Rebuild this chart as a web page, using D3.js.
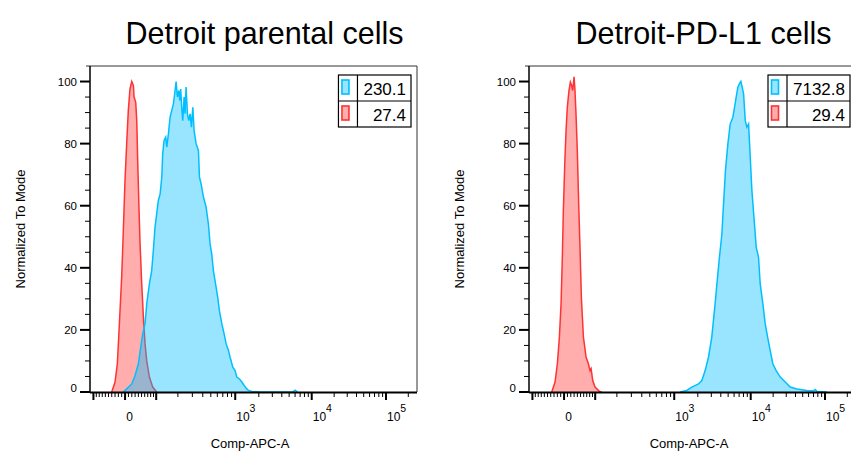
<!DOCTYPE html>
<html>
<head>
<meta charset="utf-8">
<script src="https://cdn.jsdelivr.net/npm/d3@7"></script>
<style>
  body { margin: 0; background: #fff; }
  svg { display: block; font-family: "Liberation Sans", Arial, sans-serif; }
</style>
</head>
<body>
<div id="chart"></div>
<script>
// histogram data: [display channel (0-256, biexponential), % of mode]
var parentalStained = [[26.1,0],[28.7,1.0],[32.7,2.6],[35.3,5.3],[37.9,9.1],[39.7,14.4],[41.3,18.7],[43.1,22.0],
  [44.4,28.4],[46.5,34.8],[48.3,39.1],[49.6,45.6],[50.9,53.1],[52.2,57.4],[53.5,61.7],[54.9,63.8],[56.2,69.2],
  [56.9,76.7],[58.0,81.0],[59.3,82.1],[60.1,78.9],[61.4,83.2],[62.7,88.5],[64.0,90.7],[65.3,92.8],[66.6,97.1],
  [67.4,100],[68.4,95.0],[69.5,97.1],[70.3,93.9],[71.0,97.6],[71.8,91.7],[72.6,87.4],[73.7,95.0],[74.4,89.6],
  [75.2,98.2],[76.3,89.6],[77.3,87.4],[78.4,89.6],[79.4,85.3],[80.5,91.7],[81.5,84.2],[83.1,79.9],[84.9,77.8],
  [85.7,69.2],[87.0,67.0],[88.8,62.8],[90.9,59.5],[92.7,54.1],[94.0,47.7],[95.3,44.5],[96.6,39.1],[98.7,33.8],
  [100.0,30.5],[101.3,26.2],[103.2,22.0],[105.0,18.7],[106.6,15.5],[108.4,13.4],[109.7,11.2],[111.8,8.0],
  [113.6,6.9],[114.9,4.8],[117.0,4.2],[118.9,3.2],[120.7,2.1],[122.8,1.0],[124.1,0.5],[126.7,0.2],[133.2,0],
  [158.5,0],[160.6,0.6],[162.5,0]];
var parentalControl = [[17.0,0],[19.6,3.2],[21.4,9.1],[23.0,22.0],[24.8,37.0],[26.1,52.0],[27.4,68.1],[28.7,79.9],
  [30.0,90.7],[31.3,97.6],[32.7,100],[34.0,98.7],[34.5,95.0],[35.8,93.3],[36.6,87.4],[37.4,73.5],[38.4,58.5],
  [39.2,47.7],[40.5,34.8],[41.8,24.1],[43.1,15.5],[44.4,10.1],[46.5,4.8],[49.1,1.6],[52.2,0]];
var pdl1Stained = [[118.3,0],[123.5,0.5],[127.5,1.6],[132.7,2.6],[135.3,3.7],[137.9,6.9],[140.5,11.2],[143.1,17.7],
  [145.7,28.4],[147.6,37.0],[149.1,43.4],[151.0,50.9],[152.3,60.6],[153.8,71.3],[155.7,79.9],[157.5,86.3],
  [159.6,88.5],[160.9,91.7],[162.2,95.0],[163.5,98.2],[164.8,99.3],[165.9,100],[166.9,98.2],[168.0,96.0],
  [169.3,87.4],[170.6,85.3],[171.9,86.3],[173.2,75.6],[174.5,64.9],[176.3,55.2],[177.9,46.6],[179.7,43.4],
  [181.0,34.8],[183.1,28.4],[184.9,22.0],[186.8,17.7],[188.8,13.4],[190.9,9.1],[193.5,6.9],[196.7,4.8],
  [200.6,3.2],[204.5,1.6],[209.7,1.0],[217.6,0.5],[222.5,0.3],[224.0,0.8],[225.4,0.2],[233.2,0]];
var pdl1Control = [[17.8,0],[20.4,3.2],[22.2,9.1],[23.8,17.7],[25.1,28.4],[26.1,43.4],[26.9,58.5],[28.0,73.5],
  [29.0,84.2],[30.0,91.7],[31.3,97.1],[32.4,99.8],[33.4,98.7],[34.2,97.1],[35.3,101.5],[36.0,97.1],[36.8,89.6],
  [37.9,76.7],[38.9,60.6],[40.0,45.6],[41.0,30.5],[42.6,17.7],[44.7,11.2],[46.5,9.1],[47.8,6.9],[48.6,7.5],
  [49.9,3.7],[51.7,1.6],[55.1,0.2],[56.9,0]];

var panelTitles = ["Detroit parental cells", "Detroit-PD-L1 cells"];
var stainedSeries = [parentalStained, pdl1Stained];
var controlSeries = [parentalControl, pdl1Control];
var stainedMFI = ["230.1", "7132.8"];
var controlMFI = ["27.4", "29.4"];

var xTitle = "Comp-APC-A";
var yTitle = "Normalized To Mode";
var xMajorTicks = [-100, 0, 100, 1000, 10000, 100000];
var xMinorTicks = [-90,-80,-70,-60,-50,-40,-30,-20,-10,10,20,30,40,50,60,70,80,90,
  200,300,400,500,600,700,800,900,2000,3000,4000,5000,6000,7000,8000,9000,
  20000,30000,40000,50000,60000,70000,80000,90000,200000];
var xLabelValues = [0, 1000, 10000, 100000];
var xLabelBase = ["0", "10", "10", "10"];
var xLabelExp = ["", "3", "4", "5"];
var yTicks = d3.range(0, 101, 5);

// biexponential (logicle) display transform
var T = 262144, M = 4.42, W = 0.474;
var p = (function () {
  var lo = 1.0001, hi = 50;
  for (var k = 0; k < 80; k++) {
    var mid = (lo + hi) / 2;
    if (2 * mid * Math.log10(mid) / (mid + 1) < W) lo = mid; else hi = mid;
  }
  return (lo + hi) / 2;
})();
function biexS(yv) {
  var z = yv - W;
  return T * Math.pow(10, -(M - W)) * (Math.pow(10, z) - p * p * Math.pow(10, -z / p) + p * p - 1);
}
function channel(v) {
  var lo = -1, hi = M + 1;
  for (var k = 0; k < 80; k++) {
    var mid = (lo + hi) / 2;
    if (biexS(mid) < v) lo = mid; else hi = mid;
  }
  return (lo + hi) / 2 / M * 256;
}

var width = 851, height = 452;
var plotW = 327, plotH = 326, plotTop = 66;
var panelLefts = [90, 529];

var blue = "#00bfff", red = "#ff3333";

var svg = d3.select("#chart").append("svg")
  .attr("width", width)
  .attr("height", height);

var x = d3.scaleLinear().domain([0, 256]).range([0, plotW]);
var y = d3.scaleLinear().domain([0, 105]).range([plotH, 0]);

var area = d3.area()
  .x(function (d) { return x(d[0]); })
  .y0(y(0))
  .y1(function (d) { return y(d[1]); });
var line = d3.line()
  .x(function (d) { return x(d[0]); })
  .y(function (d) { return y(d[1]); });

svg.append("clipPath").attr("id", "plotclip")
  .append("rect").attr("x", 0).attr("y", 0).attr("width", plotW).attr("height", plotH);

panelTitles.forEach(function (title, i) {
  var g = svg.append("g")
    .attr("transform", "translate(" + panelLefts[i] + "," + plotTop + ")");

  // title
  g.append("text")
    .attr("x", plotW / 2 + 11)
    .attr("y", -22)
    .attr("text-anchor", "middle")
    .style("font-size", "30.5px")
    .attr("fill", "#000")
    .text(title);

  // histograms: control first, stained on top
  var plot = g.append("g").attr("clip-path", "url(#plotclip)");
  plot.append("path").datum(controlSeries[i])
    .attr("d", area).attr("fill", red).attr("fill-opacity", 0.4);
  plot.append("path").datum(controlSeries[i])
    .attr("d", line).attr("fill", "none").attr("stroke", red).attr("stroke-width", 1.5);
  plot.append("path").datum(stainedSeries[i])
    .attr("d", area).attr("fill", blue).attr("fill-opacity", 0.4);
  plot.append("path").datum(stainedSeries[i])
    .attr("d", line).attr("fill", "none").attr("stroke", blue).attr("stroke-width", 1.5);

  // frame
  g.append("line").attr("x1", -4).attr("x2", plotW).attr("y1", 0).attr("y2", 0)
    .attr("stroke", "#333").attr("stroke-width", 1);
  g.append("line").attr("x1", plotW).attr("x2", plotW).attr("y1", 0).attr("y2", plotH)
    .attr("stroke", "#333").attr("stroke-width", 1);
  g.append("line").attr("x1", 0).attr("x2", 0).attr("y1", 0).attr("y2", plotH + 1)
    .attr("stroke", "#000").attr("stroke-width", 1.5);
  g.append("line").attr("x1", 0).attr("x2", plotW).attr("y1", plotH + 0.5).attr("y2", plotH + 0.5)
    .attr("stroke", "#000").attr("stroke-width", 2);

  // y ticks
  yTicks.forEach(function (v) {
    var major = v % 20 === 0;
    g.append("line")
      .attr("x1", major ? -10 : -5).attr("x2", 0)
      .attr("y1", y(v)).attr("y2", y(v))
      .attr("stroke", "#000").attr("stroke-width", major ? 2 : 1);
    if (major) {
      g.append("text")
        .attr("x", -13).attr("y", v === 0 ? y(v) - 4 : y(v)).attr("dy", "0.35em")
        .attr("text-anchor", "end")
        .style("font-size", "11.5px")
        .text(v);
    }
  });

  // x ticks (biexponential)
  xMinorTicks.forEach(function (v) {
    var px = x(channel(v));
    if (px < 0 || px > plotW) return;
    g.append("line").attr("x1", px).attr("x2", px)
      .attr("y1", plotH + 1).attr("y2", plotH + 5)
      .attr("stroke", "#000").attr("stroke-width", 1);
  });
  xMajorTicks.forEach(function (v) {
    var px = x(channel(v));
    if (px < 0 || px > plotW) return;
    g.append("line").attr("x1", px).attr("x2", px)
      .attr("y1", plotH + 1).attr("y2", plotH + 8)
      .attr("stroke", "#000").attr("stroke-width", 2);
  });
  xLabelValues.forEach(function (v, k) {
    var px = x(channel(v));
    var t = g.append("text")
      .attr("y", plotH + 29)
      .style("font-size", "12px");
    if (xLabelExp[k] === "") {
      t.attr("x", px + 4.5).attr("text-anchor", "middle").text(xLabelBase[k]);
    } else {
      t.attr("x", px + 1).attr("text-anchor", "start");
      t.append("tspan").text(xLabelBase[k]);
      t.append("tspan").attr("dy", -9).style("font-size", "10.5px").text(xLabelExp[k]);
    }
  });

  // axis titles
  g.append("text")
    .attr("transform", "translate(-65," + (plotH / 2) + ") rotate(-90)")
    .attr("text-anchor", "middle")
    .style("font-size", "13px")
    .text(yTitle);
  g.append("text")
    .attr("x", plotW / 2 - 3.5)
    .attr("y", 382)
    .attr("text-anchor", "middle")
    .style("font-size", "13px")
    .text(xTitle);

  // legend box
  var legendRows = [[blue, stainedMFI[i]], [red, controlMFI[i]]];
  var lg = g.append("g");
  var texts = lg.selectAll("text.mfi")
    .data(legendRows)
    .enter()
    .append("text")
    .attr("class", "mfi")
    .attr("text-anchor", "end")
    .style("font-size", "17px")
    .text(function (d) { return d[1]; });
  var maxW = d3.max(texts.nodes(), function (n) { return n.getComputedTextLength(); });
  var rowH = 26, swW = 19, right = plotW - 6, top = 9;
  var textCol = maxW + 11;
  var left = right - textCol - swW;
  texts.attr("x", right - 5)
    .attr("y", function (d, k) { return top + k * rowH + 20; });
  lg.append("rect")
    .attr("x", left).attr("y", top)
    .attr("width", right - left).attr("height", rowH * 2)
    .attr("fill", "none").attr("stroke", "#000").attr("stroke-width", 1.2);
  lg.append("line").attr("x1", left).attr("x2", right)
    .attr("y1", top + rowH).attr("y2", top + rowH)
    .attr("stroke", "#000").attr("stroke-width", 1.2);
  lg.append("line").attr("x1", left + swW).attr("x2", left + swW)
    .attr("y1", top).attr("y2", top + rowH * 2)
    .attr("stroke", "#000").attr("stroke-width", 1.2);
  legendRows.forEach(function (d, k) {
    lg.append("rect")
      .attr("x", left + 3.5).attr("y", top + k * rowH + 5)
      .attr("width", 7).attr("height", 14)
      .attr("fill", d[0]).attr("fill-opacity", 0.4)
      .attr("stroke", d[0]).attr("stroke-width", 1.6);
  });
});
</script>
</body>
</html>
